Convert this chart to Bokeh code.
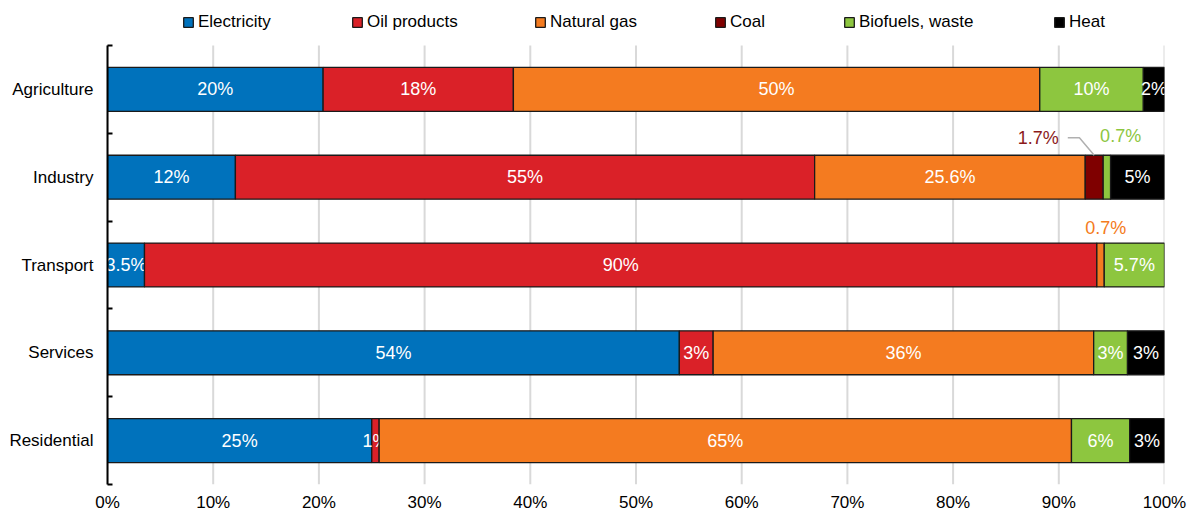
from bokeh.plotting import figure
from bokeh.models import (ColumnDataSource, Range1d, FixedTicker, Legend, LegendItem,
                          CustomJSTickFormatter)
from bokeh.core.properties import value
from bokeh.embed import file_html
from bokeh.resources import INLINE

# ---------------- data ----------------
categories = ["Agriculture", "Industry", "Transport", "Services", "Residential"]
series_names = ["Electricity", "Oil products", "Natural gas", "Coal", "Biofuels, waste", "Heat"]

electricity = [20.4, 12.1, 3.5, 54.1, 25.0]
oil_products = [18.0, 54.8, 90.1, 3.2, 0.7]
natural_gas = [49.8, 25.6, 0.7, 36.0, 65.5]
coal = [0.0, 1.7, 0.0, 0.0, 0.0]
biofuels = [9.8, 0.7, 5.7, 3.2, 5.5]
heat = [2.0, 5.1, 0.0, 3.5, 3.3]

electricity_labels = ["20%", "12%", "3.5%", "54%", "25%"]
oil_labels = ["18%", "55%", "90%", "3%", "1%"]
gas_labels = ["50%", "25.6%", "", "36%", "65%"]
coal_labels = ["", "", "", "", ""]
biofuels_labels = ["10%", "", "5.7%", "3%", "6%"]
heat_labels = ["2%", "5%", "", "3%", "3%"]

# small segments labelled outside the bar: (series index, category, text)
outside_labels = [(3, "Industry", "1.7%"), (4, "Industry", "0.7%"), (2, "Transport", "0.7%")]

x_ticks = [0, 10, 20, 30, 40, 50, 60, 70, 80, 90, 100]

# ---------------- style ----------------
colors = ["#0072BC", "#DA2128", "#F47B20", "#7F0000", "#8DC63F", "#000000"]
label_colors_out = {3: "#8B1A1A", 4: "#8DC63F", 2: "#F47B20"}
FONT = "Liberation Sans"
FS = "17px"
FS_VAL = "18px"

series = [electricity, oil_products, natural_gas, coal, biofuels, heat]
labels = [electricity_labels, oil_labels, gas_labels, coal_labels, biofuels_labels, heat_labels]

n = len(categories)
ypos = [n - 0.5 - i for i in range(n)]

W, H = 1189, 519
BORDER_L, BORDER_R, BORDER_B = 107, 25, 35
TOP_PAD = 45                       # px of legend space kept inside the frame
frame_h = H - BORDER_B
px_per_unit = (frame_h - TOP_PAD) / n
y_top = n + TOP_PAD / px_per_unit

p = figure(width=W, height=H, x_range=Range1d(0, 100), y_range=Range1d(0, y_top),
           output_backend="svg", toolbar_location=None,
           min_border_left=BORDER_L, min_border_right=BORDER_R, min_border_top=0,
           min_border_bottom=BORDER_B)
p.outline_line_color = None
p.background_fill_color = "white"
p.border_fill_color = "white"

# grid (drawn manually so it stops at the top of the category area)
p.xgrid.grid_line_color = None
p.ygrid.grid_line_color = None
p.segment(x0=x_ticks, y0=[0] * len(x_ticks), x1=x_ticks, y1=[n] * len(x_ticks),
          line_color="#d9d9d9", line_width=2)

# x axis
p.xaxis.ticker = FixedTicker(ticks=x_ticks)
p.xaxis.formatter = CustomJSTickFormatter(code="return tick + '%';")
p.xaxis.axis_line_color = None
p.xaxis.major_tick_line_color = None
p.xaxis.minor_tick_line_color = None
p.xaxis.major_label_standoff = 2
p.xaxis.major_label_text_font = FONT
p.xaxis.major_label_text_font_size = FS
p.xaxis.major_label_text_color = "#000000"

# y axis
p.yaxis.bounds = (0, n)
p.yaxis.ticker = FixedTicker(ticks=ypos, minor_ticks=list(range(n + 1)))
p.yaxis.formatter = CustomJSTickFormatter(args=dict(cats=categories),
                                          code="return cats[Math.round(cats.length - 0.5 - tick)];")
p.yaxis.axis_line_color = "#000000"
p.yaxis.axis_line_width = 2
p.yaxis.major_tick_line_color = None
p.yaxis.minor_tick_line_color = "#000000"
p.yaxis.minor_tick_line_width = 2
p.yaxis.minor_tick_in = 5
p.yaxis.minor_tick_out = 0
p.yaxis.major_label_standoff = 8
p.yaxis.major_label_text_font = FONT
p.yaxis.major_label_text_font_size = FS
p.yaxis.major_label_text_color = "#000000"

# bars
renderers = []
cum = [0.0] * n
seg = {}
for si, (vals, labs) in enumerate(zip(series, labels)):
    d = dict(y=[], left=[], right=[], mid=[], label=[])
    for ci in range(n):
        left = cum[ci]
        right = left + vals[ci]
        seg[(si, categories[ci])] = (left, right)
        if vals[ci] > 0:
            d["y"].append(ypos[ci])
            d["left"].append(left)
            d["right"].append(right)
            d["mid"].append((left + right) / 2)
            d["label"].append(labs[ci])
        cum[ci] = right
    src = ColumnDataSource(d)
    r = p.hbar(y="y", left="left", right="right", height=0.5, source=src,
               fill_color=colors[si], line_color="#1a1a1a", line_width=1.3)
    renderers.append(r)
    p.text(x="mid", y="y", text="label", source=src, text_color="white",
           text_align="center", text_baseline="middle",
           text_font=value(FONT), text_font_size=FS_VAL)

# outside labels with offsets
offsets = {3: (-5.3, 0.45), 4: (1.3, 0.47), 2: (0.5, 0.42)}
for si, cat, txt in outside_labels:
    left, right = seg[(si, cat)]
    mid = (left + right) / 2
    yc = ypos[categories.index(cat)]
    dx, dy = offsets[si]
    p.text(x=[mid + dx], y=[yc + dy], text=[txt], text_color=label_colors_out[si],
           text_align="center", text_baseline="middle",
           text_font=value(FONT), text_font_size=FS_VAL)
    if si == 3:
        p.line(x=[mid - 2.5, mid - 1.4, mid], y=[yc + 0.45, yc + 0.45, yc + 0.25],
               line_color="#b0b0b0", line_width=1.5)

# legend: one per item, inside the top strip of the frame
legend_x = [182, 351, 534, 714, 843, 1053]
for name, r, lx in zip(series_names, renderers, legend_x):
    leg = Legend(items=[LegendItem(label=name, renderers=[r])],
                 location=(lx - BORDER_L, frame_h - 32), orientation="horizontal",
                 padding=0, margin=0, spacing=0, border_line_color=None,
                 background_fill_alpha=0, glyph_width=12, glyph_height=12,
                 label_standoff=4, label_text_font=FONT, label_text_font_size=FS,
                 label_height=20, label_text_color="#000000")
    p.add_layout(leg, "center")

open("out.html", "w").write(file_html(p, INLINE))
